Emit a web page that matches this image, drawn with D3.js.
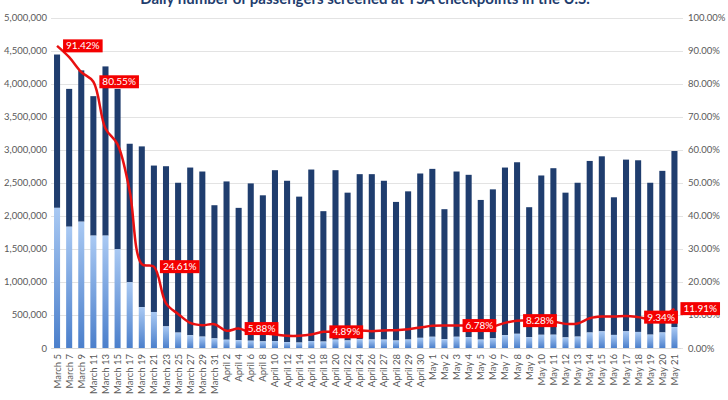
<!DOCTYPE html>
<html>
<head>
<meta charset="utf-8">
<script src="https://cdn.jsdelivr.net/npm/d3@7"></script>
<style>
  html, body { margin: 0; padding: 0; background: #fff; }
  svg { display: block; }
</style>
</head>
<body>
<svg id="chart" width="728" height="400"></svg>
<script>
const dates = ["March 5","March 7","March 9","March 11","March 13","March 15","March 17","March 19","March 21","March 23","March 25","March 27","March 29","March 31","April 2","April 4","April 6","April 8","April 10","April 12","April 14","April 16","April 18","April 20","April 22","April 24","April 26","April 27","April 28","April 29","April 30","May 1","May 2","May 3","May 4","May 5","May 6","May 7","May 8","May 9","May 10","May 11","May 12","May 13","May 14","May 15","May 16","May 17","May 18","May 19","May 20","May 21"];
const pax2020 = [2120500,1835000,1911000,1700000,1700000,1494000,995000,618000,545000,327000,233000,193000,172000,145000,125000,118000,110000,100000,106000,90000,82000,106000,97000,126000,114000,132000,128000,127000,113000,128000,154000,170000,134000,170000,165000,127000,146000,193000,215000,163000,200000,201000,160000,172000,234000,252000,198000,252000,243000,202000,235000,317000];
const pax2019 = [2319500,2085000,2289000,2110000,2560000,2426000,2095000,2432000,2215000,2423000,2267000,2537000,2498000,2015000,2395000,2002000,2380000,2210000,2584000,2440000,2208000,2594000,1973000,2564000,2236000,2498000,2502000,2403000,2097000,2242000,2486000,2540000,1966000,2500000,2455000,2113000,2254000,2537000,2595000,1967000,2410000,2519000,2190000,2328000,2596000,2648000,2082000,2598000,2597000,2298000,2445000,2663000];
const pctOf2019 = [91.42,88.0,83.5,80.55,66.4,61.6,47.5,25.4,24.61,13.5,10.3,7.6,6.9,7.2,5.2,5.88,4.6,4.5,4.1,3.7,3.7,4.1,4.89,4.9,5.1,5.3,5.1,5.3,5.4,5.7,6.2,6.7,6.8,6.78,6.7,6.0,6.5,7.6,8.28,8.3,8.3,8.0,7.3,7.4,9.0,9.5,9.5,9.7,9.34,8.8,9.6,11.91];
const labelledIdx = [0,3,8,15,22,33,38,48,51];
const leftTicks = [0,500000,1000000,1500000,2000000,2500000,3000000,3500000,4000000,4500000,5000000];
const rightTicks = [0,10,20,30,40,50,60,70,80,90,100];
const title = "Daily number of passengers screened at TSA checkpoints in the U.S.";

const svg = d3.select("#chart");
const FONT = "Lato, 'Open Sans', sans-serif";
const m = {left: 51, right: 680.5, top: 17.5, bottom: 348};

const x = d3.scaleBand().domain(dates).range([m.left, m.right]).paddingInner(0.5).paddingOuter(0.25);
const y = d3.scaleLinear().domain([0, 5000000]).range([m.bottom, m.top]);
const y2 = d3.scaleLinear().domain([0, 100]).range([m.bottom, m.top]);

const defs = svg.append("defs");
const g = defs.append("linearGradient").attr("id","lightGrad").attr("x1",0).attr("y1",0).attr("x2",0).attr("y2",1);
g.append("stop").attr("offset","0%").attr("stop-color","#a9c9f3");
g.append("stop").attr("offset","100%").attr("stop-color","#4b7fcb");

// title (partly cut off at the top, as in the reference)
svg.append("text").attr("x", 365).attr("y", 4).attr("text-anchor","middle")
  .attr("font-family", FONT).attr("font-size", 15).attr("font-weight","bold")
  .attr("fill","#1f3d6e").text(title);

svg.append("g").selectAll("line").data(leftTicks).join("line")
  .attr("x1", m.left).attr("x2", 683)
  .attr("y1", d => Math.round(y(d)) + 0.5).attr("y2", d => Math.round(y(d)) + 0.5)
  .attr("stroke", "#e3e3e3").attr("stroke-width", 1);

const la = svg.append("g").attr("transform", `translate(${m.left - 4},0)`)
  .call(d3.axisLeft(y).tickValues(leftTicks).tickFormat(d3.format(",")).tickSize(0).tickPadding(0));
la.select(".domain").remove();
la.selectAll("text").attr("font-family", FONT).attr("font-size", 9.5).attr("fill", "#595959");

const ra = svg.append("g").attr("transform", `translate(688,0)`)
  .call(d3.axisRight(y2).tickValues(rightTicks).tickFormat(d => d.toFixed(2) + "%").tickSize(0).tickPadding(0));
ra.select(".domain").remove();
ra.selectAll("text").attr("font-family", FONT).attr("font-size", 9.5).attr("fill", "#595959");

const ba = svg.append("g").attr("transform", `translate(0,${m.bottom})`)
  .call(d3.axisBottom(x).tickSize(0).tickPadding(0));
ba.select(".domain").attr("stroke", "#d9d9d9");
ba.selectAll("text").attr("font-family", FONT).attr("font-size", 9.5).attr("fill", "#595959")
  .attr("text-anchor","end").attr("dy", null)
  .attr("transform", "translate(3.5,6) rotate(-90)");

const bars = svg.append("g");
bars.selectAll("rect.b19").data(dates).join("rect").attr("class","b19")
  .attr("x", d => x(d)).attr("width", x.bandwidth())
  .attr("y", (d,i) => y(pax2020[i] + pax2019[i]))
  .attr("height", (d,i) => y(pax2020[i]) - y(pax2020[i] + pax2019[i]))
  .attr("fill", "#1f3d6e");
bars.selectAll("rect.b20").data(dates).join("rect").attr("class","b20")
  .attr("x", d => x(d)).attr("width", x.bandwidth())
  .attr("y", (d,i) => y(pax2020[i]))
  .attr("height", (d,i) => y(0) - y(pax2020[i]))
  .attr("fill", "url(#lightGrad)");

const cx = d => x(d) + x.bandwidth()/2;
const line = d3.line().x((d,i) => cx(dates[i])).y(d => y2(d)).curve(d3.curveCatmullRom.alpha(0.5));
svg.append("path").datum(pctOf2019).attr("d", line)
  .attr("fill","none").attr("stroke","#e81010").attr("stroke-width", 2.5).attr("stroke-linejoin","round");

const lg = svg.append("g");
labelledIdx.forEach(i => {
  const px = cx(dates[i]) + 6, py = y2(pctOf2019[i]);
  const grp = lg.append("g");
  const t = grp.append("text").attr("x", px + 3).attr("y", py + 3.5)
    .attr("font-family", FONT).attr("font-size", 10).attr("fill", "#fff")
    .text(pctOf2019[i].toFixed(2) + "%");
  const w = t.node().getComputedTextLength();
  grp.insert("rect","text").attr("x", px).attr("y", py - 6.5).attr("width", w + 6).attr("height", 13)
    .attr("fill", "#f40000");
});
</script>
</body>
</html>
